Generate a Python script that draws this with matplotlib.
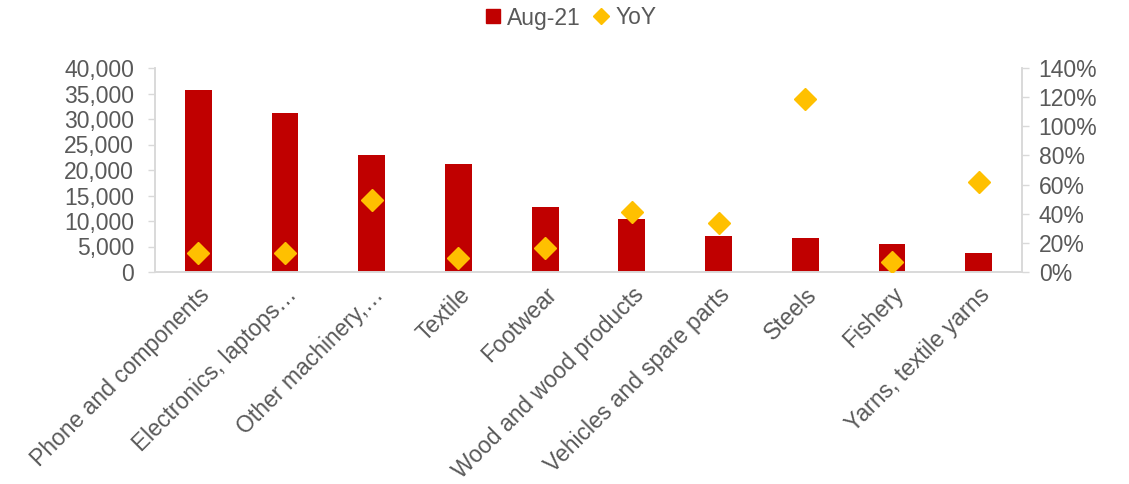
import matplotlib
matplotlib.use('Agg')
import matplotlib.pyplot as plt
from matplotlib.ticker import FuncFormatter, MultipleLocator
from matplotlib.lines import Line2D
import numpy as np

plt.rcParams['font.family'] = ['Liberation Sans', 'DejaVu Sans']

# ── 데이터 ──────────────────────────────────────────────
categories = ['Phone and components', 'Electronics, laptops…', 'Other machinery,…',
              'Textile', 'Footwear', 'Wood and wood products',
              'Vehicles and spare parts', 'Steels', 'Fishery', 'Yarns, textile yarns']
aug21 = [35600, 31200, 22900, 21200, 12700, 10400, 7100, 6750, 5500, 3650]
yoy = [12.8, 12.8, 49.4, 9.6, 16.5, 41.5, 33.5, 118.5, 7.0, 62.0]

BAR_COLOR = '#C00000'
DOT_COLOR = '#FFC000'
TXT = '#595959'
AXC = '#D9D9D9'
FS = 16.5

fig = plt.figure(figsize=(11.29, 4.84), dpi=100)
ax = fig.add_axes([155/1129, 1 - 272/484, (1022 - 155)/1129, 204/484])
ax2 = ax.twinx()

x = np.arange(len(categories))
ax.bar(x, aug21, width=0.31, color=BAR_COLOR, zorder=2)
ax2.plot(x, yoy, linestyle='none', marker='D', markersize=11,
         color=DOT_COLOR, markeredgecolor=DOT_COLOR, zorder=3)

ax.set_xlim(-0.5, len(categories) - 0.5)
ax.set_ylim(0, 40000)
ax.yaxis.set_major_locator(MultipleLocator(5000))
ax.yaxis.set_major_formatter(FuncFormatter(lambda v, p: f'{int(v):,}'))
ax2.set_ylim(0, 140)
ax2.yaxis.set_major_locator(MultipleLocator(20))
ax2.yaxis.set_major_formatter(FuncFormatter(lambda v, p: f'{int(v)}%'))

ax.set_xticks(x)
ax.set_xticklabels(categories, rotation=45, ha='right', rotation_mode='anchor',
                   fontsize=FS, color=TXT)
ax.tick_params(axis='x', length=0, pad=8)
ax.tick_params(axis='y', labelsize=FS, labelcolor=TXT, color=AXC, length=5, width=1, pad=10)
ax2.tick_params(axis='y', labelsize=FS, labelcolor=TXT, color=AXC, length=5, width=1, pad=7)

for a in (ax, ax2):
    a.spines['top'].set_visible(False)
    for s in ('left', 'right', 'bottom'):
        a.spines[s].set_color(AXC)
        a.spines[s].set_linewidth(1.2)

# 범례
handles = [
    Line2D([], [], linestyle='none', marker='s', markersize=10,
           color=BAR_COLOR, label='Aug-21'),
    Line2D([], [], linestyle='none', marker='D', markersize=8,
           color=DOT_COLOR, label='YoY'),
]
fig.legend(handles=handles, loc='center', bbox_to_anchor=(0.506, 1 - 18/484),
           ncol=2, frameon=False, fontsize=FS, labelcolor=TXT,
           handlelength=0.6, handletextpad=0.3, columnspacing=0.6)

plt.savefig('out.png', dpi=100, facecolor='white')
plt.close()
